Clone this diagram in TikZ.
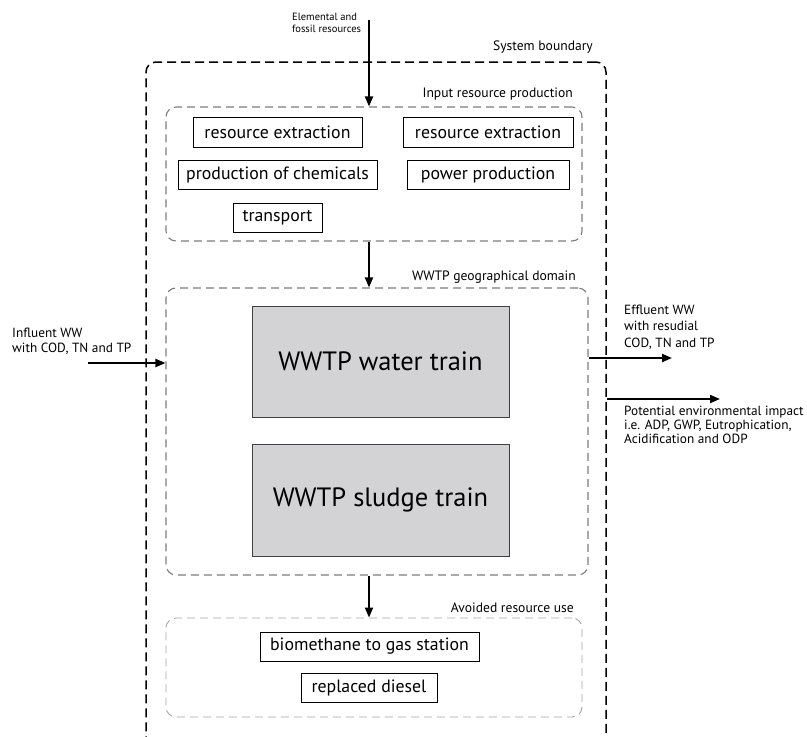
\documentclass[tikz,border=0pt]{standalone}
\usepackage{fontspec}
\setmainfont{PT Sans}
\usetikzlibrary{arrows.meta}
\definecolor{trainfill}{RGB}{211,211,213}
\definecolor{midgray}{RGB}{125,125,125}
\definecolor{lightgray2}{RGB}{165,165,165}
\begin{document}
\begin{tikzpicture}[x=1pt,y=-1pt,
  box/.style={draw=black, line width=0.8pt, fill=white, inner sep=0pt, font=\fontsize{17.8}{20}\selectfont},
  train/.style={draw=black!75, line width=0.8pt, fill=trainfill, inner sep=0pt, font=\fontsize{26.5}{30}\selectfont},
  sysbox/.style={draw=black, line width=1.5pt, dash pattern=on 9pt off 5pt, rounded corners=10pt, inner sep=0pt},
  grpbox/.style={draw=midgray, line width=1.1pt, dash pattern=on 8pt off 5pt, rounded corners=10pt, inner sep=0pt},
  avbox/.style={draw=lightgray2, line width=0.9pt, dash pattern=on 8pt off 5pt, rounded corners=10pt, inner sep=0pt},
  lbl/.style={font=\fontsize{13.6}{15}\selectfont, inner sep=0pt},
  side/.style={inner sep=0pt, align=left, anchor=west},
  arr/.style={line width=2pt, -{Triangle[length=10pt,width=8pt]}},
]
\useasboundingbox (0,0) rectangle (807,737);
\clip (0,0) rectangle (807,737);

% containers
\node[sysbox, minimum width=460, minimum height=685] (sys) at (376,404.5) {};
\node[grpbox, minimum width=416, minimum height=134] (inp) at (374,174) {};
\node[grpbox, minimum width=422, minimum height=287] (dom) at (377,431.5) {};
\node[avbox, minimum width=416, minimum height=99] (avd) at (374,667.5) {};

% container labels
\node[lbl, anchor=east] (lsys) at (593,47) {System boundary};
\node[lbl, anchor=east] (linp) at (573,94) {Input resource production};
\node[lbl, anchor=east] (ldom) at (576,277) {WWTP geographical domain};
\node[lbl, anchor=east] (lavd) at (574,608) {Avoided resource use};

% input boxes
\node[box, minimum width=169, minimum height=30] (rx1) at (277.5,132) {resource extraction};
\node[box, minimum width=170, minimum height=30] (rx2) at (488,132) {resource extraction};
\node[box, minimum width=199, minimum height=29] (chem) at (277.5,175) {production of chemicals};
\node[box, minimum width=162, minimum height=29] (pow) at (488,175) {power production};
\node[box, minimum width=89, minimum height=29] (trn) at (277.5,217.5) {transport};

% trains
\node[train, minimum width=257, minimum height=111] (water) at (380.5,361.5) {WWTP water train};
\node[train, minimum width=257, minimum height=112] (sludge) at (380.5,500) {WWTP sludge train};

% avoided boxes
\node[box, minimum width=219, minimum height=29] (bio) at (369.5,646.5) {biomethane to gas station};
\node[box, minimum width=136, minimum height=29] (dsl) at (369,687.5) {replaced diesel};

% outside texts
\node[font=\fontsize{10.5}{12}\selectfont, inner sep=0pt, align=left, anchor=west] (elem) at (292,23) {Elemental and\\fossil resources};
\node[side, font=\fontsize{13.3}{15}\selectfont] (infl) at (12,341.5) {Influent WW\\with COD, TN and TP};
\node[side, font=\fontsize{13.3}{16.5}\selectfont] (effl) at (624,327) {Effluent WW\\with resudial\\COD, TN and TP};
\node[side, font=\fontsize{13.3}{14}\selectfont] (pot) at (624,425) {Potential environmental impact\\i.e. ADP, GWP, Eutrophication,\\Acidification and ODP};

% connectors
\coordinate (ax) at (369,0);
\coordinate (etop) at (369,20);
\coordinate (inst) at (88,363);
\coordinate (effend) at (672,358);
\coordinate (potst) at (607,399);
\coordinate (potend) at (720,399);
\draw[arr] (etop) -- (inp.north -| ax);
\draw[arr] (inp.south -| ax) -- (dom.north -| ax);
\draw[arr] (dom.south -| ax) -- (avd.north -| ax);
\draw[arr] (inst) -- (dom.west |- inst);
\draw[arr] (dom.east |- effend) -- (effend);
\draw[arr] (potst) -- (potend);
\end{tikzpicture}
\end{document}
